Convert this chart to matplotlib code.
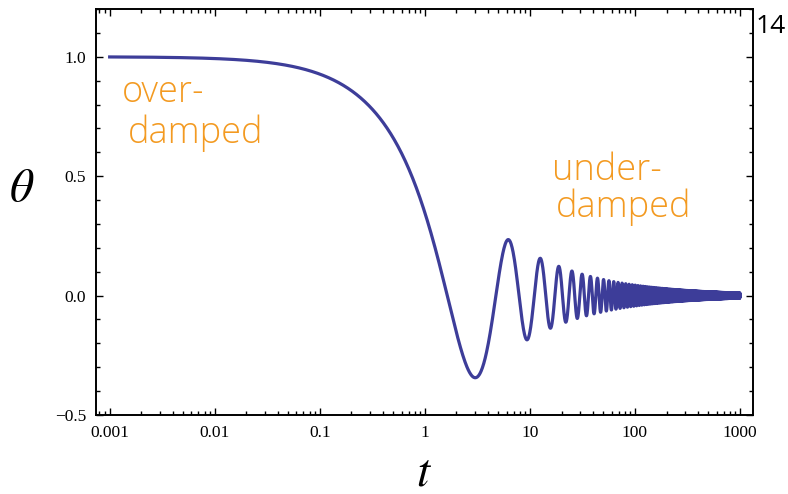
import numpy as np
import matplotlib.pyplot as plt
from matplotlib.ticker import LogLocator, MultipleLocator, FixedLocator, FixedFormatter, NullFormatter

plt.rcParams['mathtext.fontset'] = 'stix'
plt.rcParams['font.family'] = ['Liberation Serif', 'DejaVu Serif']

# oscillator theta'' + k/(t + t0) theta' + theta = 0, started on the slow mode
k_damp = 1.25
t_knee = 0.6
t_start, t_end = 1e-3, 1e3

x_ticks = [1e-3, 1e-2, 1e-1, 1, 10, 100, 1000]
x_labels = ['0.001', '0.01', '0.1', '1', '10', '100', '1000']
y_ticks = [-0.5, 0.0, 0.5, 1.0]
y_labels = ['\u22120.5', '0.0', '0.5', '1.0']


def solve(k, t0):
    b0 = k / t0
    r = (b0 - np.sqrt(max(b0 * b0 - 4, 0))) / 2

    # s = ln t, v = t * dtheta/dt
    def rhs(t, th, v):
        return v, v - k * t / (t + t0) * v - t * t * th
    s = np.log(t_start)
    th = np.exp(-r * t_start)
    v = -r * t_start * th
    ts, ths = [t_start], [th]
    while s < np.log(t_end):
        t = np.exp(s)
        ds = min(0.01, 0.05 / t)
        k1 = rhs(t, th, v)
        tm = np.exp(s + ds / 2)
        k2 = rhs(tm, th + ds / 2 * k1[0], v + ds / 2 * k1[1])
        k3 = rhs(tm, th + ds / 2 * k2[0], v + ds / 2 * k2[1])
        k4 = rhs(np.exp(s + ds), th + ds * k3[0], v + ds * k3[1])
        th += ds / 6 * (k1[0] + 2 * k2[0] + 2 * k3[0] + k4[0])
        v += ds / 6 * (k1[1] + 2 * k2[1] + 2 * k3[1] + k4[1])
        s += ds
        ts.append(np.exp(s))
        ths.append(th)
    return np.array(ts), np.array(ths)


fig = plt.figure(figsize=(7.88, 4.94), dpi=100)
ax = fig.add_axes([96 / 788, 1 - 415 / 494, (752.7 - 96) / 788, (415 - 9) / 494])

t, th = solve(k_damp, t_knee)
ax.plot(t, th, color='#3d3d99', lw=2.3)

ax.set_xscale('log')
ax.set_xlim(10 ** -3.13, 10 ** 3.121)
ax.set_ylim(-0.5, 1.2)

ax.xaxis.set_major_locator(FixedLocator(x_ticks))
ax.xaxis.set_major_formatter(FixedFormatter(x_labels))
ax.xaxis.set_minor_locator(LogLocator(base=10, subs=np.arange(2, 10), numticks=20))
ax.xaxis.set_minor_formatter(NullFormatter())
ax.yaxis.set_major_locator(FixedLocator(y_ticks))
ax.yaxis.set_major_formatter(FixedFormatter(y_labels))
ax.yaxis.set_minor_locator(MultipleLocator(0.1))

for sp in ax.spines.values():
    sp.set_linewidth(1.4)
ax.tick_params(which='both', direction='in', top=True, right=True, width=1.0, labelsize=12.5)
ax.tick_params(which='major', length=4.8, pad=7)
ax.tick_params(which='minor', length=2.6)

fig.text(22 / 788, 1 - 190 / 494, r'$\theta$', fontsize=34, ha='center', va='center')
fig.text(424 / 788, 1 - 474 / 494, r'$t$', fontsize=34, ha='center', va='center')

# hand-written notes
note = dict(color='#f39a21', fontsize=26, family='Open Sans', weight='light', va='baseline')
fig.text(122 / 788, 1 - 102 / 494, 'over-', **note)
fig.text(128 / 788, 1 - 143 / 494, 'damped', **note)
fig.text(552 / 788, 1 - 180 / 494, 'under-', **note)
fig.text(556 / 788, 1 - 217 / 494, 'damped', **note)
fig.text(786 / 788, 1 - 33 / 494, '14', color='black', fontsize=19, family='Open Sans',
         ha='right', va='baseline')

fig.savefig('out.png', dpi=100)
